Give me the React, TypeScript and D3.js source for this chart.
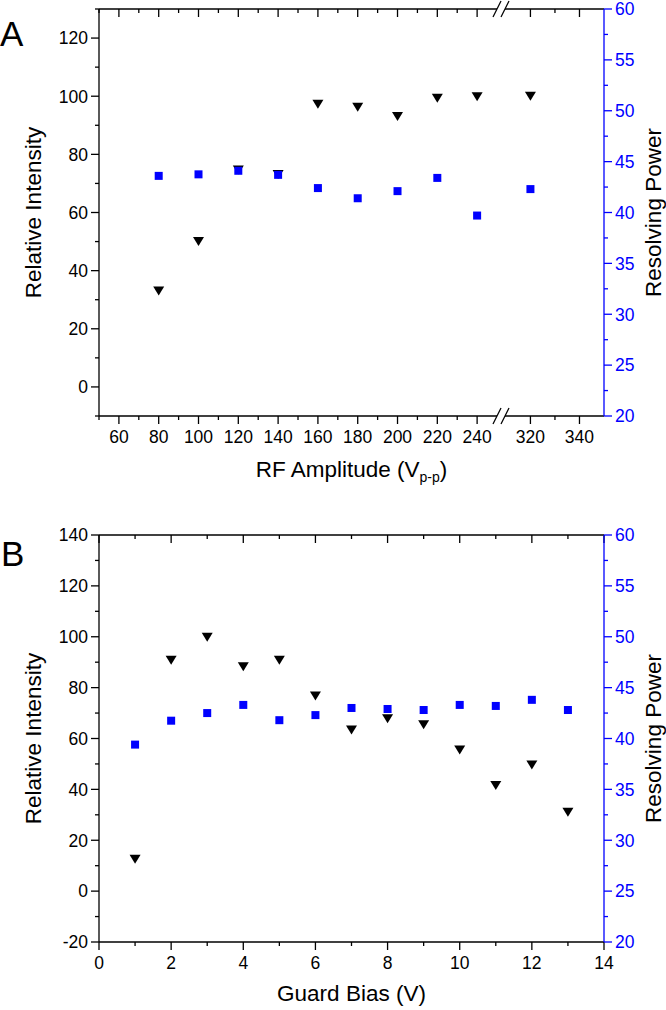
import React from 'react';
import * as d3 from 'd3';

// ---------- data ----------
const rfAmplitude = [80, 100, 120, 140, 160, 180, 200, 220, 240, 320];
const rfIntensity = [33, 50, 74.6, 73.1, 97.2, 96.2, 93, 99.3, 99.8, 100];
const rfResolving = [43.6, 43.75, 44.1, 43.7, 42.4, 41.4, 42.1, 43.4, 39.7, 42.3];

const guardBias = [1, 2, 3, 4, 5, 6, 7, 8, 9, 10, 11, 12, 13];
const gbIntensity = [12.5, 90.8, 99.8, 88.2, 90.8, 76.7, 63.3, 67.8, 65.4, 55.5, 41.5, 49.6, 31];
const gbResolving = [39.4, 41.75, 42.5, 43.3, 41.8, 42.3, 43.0, 42.9, 42.8, 43.3, 43.2, 43.8, 42.8];

// tick values
const rfMajorLeftSeg = [60, 80, 100, 120, 140, 160, 180, 200, 220, 240];
const rfMinorLeftSeg = [50, 70, 90, 110, 130, 150, 170, 190, 210, 230];
const rfMajorRightSeg = [320, 340];
const rfMinorRightSeg = [330];
const intensityTicksA = [0, 20, 40, 60, 80, 100, 120];
const intensityMinorA = [-10, 10, 30, 50, 70, 90, 110, 130];
const intensityTicksB = [-20, 0, 20, 40, 60, 80, 100, 120, 140];
const intensityMinorB = [-10, 10, 30, 50, 70, 90, 110, 130];
const rpTicks = [20, 25, 30, 35, 40, 45, 50, 55, 60];
const rpMinor = [22.5, 27.5, 32.5, 37.5, 42.5, 47.5, 52.5, 57.5];
const gbMajor = [0, 2, 4, 6, 8, 10, 12, 14];
const gbMinor = [1, 3, 5, 7, 9, 11, 13];

// ---------- layout ----------
const FONT = "'Liberation Sans', Arial, Helvetica, sans-serif";
const BLUE = '#0000ff';
const L = 99;
const R = 604;
const BREAK_X = 501;
const TOP_A = 9, BOT_A = 416;
const TOP_B = 535, BOT_B = 942;
const MAJ = 8, MIN = 4;
const TICK_FS = 17.5;
const TITLE_FS = 22.5;
const SW = 1.3;

const xLeftA = d3.scaleLinear().domain([50, 252]).range([L, BREAK_X]);
const xRightA = d3.scaleLinear().domain([308, 350]).range([BREAK_X, R]);
const xA = (v: number) => (v < 280 ? xLeftA(v) : xRightA(v));
const yIntA = d3.scaleLinear().domain([-10, 130]).range([BOT_A, TOP_A]);
const yRpA = d3.scaleLinear().domain([20, 60]).range([BOT_A, TOP_A]);

const xB = d3.scaleLinear().domain([0, 14]).range([L, R]);
const yIntB = d3.scaleLinear().domain([-20, 140]).range([BOT_B, TOP_B]);
const yRpB = d3.scaleLinear().domain([20, 60]).range([BOT_B, TOP_B]);

const triPath = 'M-5.5,-4.5L5.5,-4.5L0,4.5Z';

function LeftAxis({ y, major, minor, top, bottom }: any) {
  return (
    <g>
      <line x1={L} x2={L} y1={top} y2={bottom} stroke="#000" strokeWidth={SW} />
      {minor.map((v: number) => (
        <line key={'m' + v} x1={L - MIN} x2={L} y1={y(v)} y2={y(v)} stroke="#000" strokeWidth={SW} />
      ))}
      {major.map((v: number) => (
        <g key={'M' + v}>
          <line x1={L - MAJ} x2={L} y1={y(v)} y2={y(v)} stroke="#000" strokeWidth={SW} />
          <text x={L - 11} y={y(v)} dy="0.36em" textAnchor="end" fontSize={TICK_FS} fontFamily={FONT} fill="#000">
            {v}
          </text>
        </g>
      ))}
    </g>
  );
}

function RightAxis({ y, top, bottom }: any) {
  return (
    <g>
      <line x1={R} x2={R} y1={top} y2={bottom} stroke={BLUE} strokeWidth={SW} />
      {rpMinor.map((v) => (
        <line key={'m' + v} x1={R} x2={R + MIN} y1={y(v)} y2={y(v)} stroke={BLUE} strokeWidth={SW} />
      ))}
      {rpTicks.map((v) => (
        <g key={'M' + v}>
          <line x1={R} x2={R + MAJ} y1={y(v)} y2={y(v)} stroke={BLUE} strokeWidth={SW} />
          <text x={R + 11} y={y(v)} dy="0.36em" textAnchor="start" fontSize={TICK_FS} fontFamily={FONT} fill={BLUE}>
            {v}
          </text>
        </g>
      ))}
    </g>
  );
}

function HTicks({ x, major, minor, top, bottom, labels }: any) {
  return (
    <g>
      {minor.map((v: number) => (
        <g key={'m' + v}>
          <line x1={x(v)} x2={x(v)} y1={bottom} y2={bottom + MIN} stroke="#000" strokeWidth={SW} />
          <line x1={x(v)} x2={x(v)} y1={top} y2={top + MIN} stroke="#000" strokeWidth={SW} />
        </g>
      ))}
      {major.map((v: number) => (
        <g key={'M' + v}>
          <line x1={x(v)} x2={x(v)} y1={bottom} y2={bottom + MAJ} stroke="#000" strokeWidth={SW} />
          <line x1={x(v)} x2={x(v)} y1={top} y2={top + MAJ} stroke="#000" strokeWidth={SW} />
          {labels && (
            <text x={x(v)} y={bottom + 27} textAnchor="middle" fontSize={TICK_FS} fontFamily={FONT} fill="#000">
              {v}
            </text>
          )}
        </g>
      ))}
    </g>
  );
}

function BreakMark({ x, y }: any) {
  return (
    <g>
      <rect x={x - 4} y={y - 2} width={8} height={4} fill="#fff" />
      <line x1={x - 8} x2={x} y1={y + 8} y2={y - 8} stroke="#000" strokeWidth={SW} />
      <line x1={x} x2={x + 8} y1={y + 8} y2={y - 8} stroke="#000" strokeWidth={SW} />
    </g>
  );
}

function Markers({ xs, ints, res, x, yI, yR }: any) {
  return (
    <g>
      {xs.map((v: number, i: number) => (
        <path key={'t' + i} d={triPath} transform={`translate(${x(v)},${yI(ints[i])})`} fill="#000" />
      ))}
      {xs.map((v: number, i: number) => (
        <rect key={'s' + i} x={x(v) - 4} y={yR(res[i]) - 4} width={8} height={8} fill={BLUE} />
      ))}
    </g>
  );
}

function YTitles({ top, bottom }: any) {
  const cy = (top + bottom) / 2;
  return (
    <g fontFamily={FONT} fontSize={TITLE_FS}>
      <text transform={`translate(41,${cy}) rotate(-90)`} textAnchor="middle" fill="#000">
        Relative Intensity
      </text>
      <text transform={`translate(661,${cy}) rotate(-90)`} textAnchor="middle" fill="#000">
        Resolving Power
      </text>
    </g>
  );
}

export default function App() {
  return (
    <div style={{ position: 'absolute', left: 0, top: 0 }}>
      <svg width={666} height={1010} style={{ display: 'block', background: '#fff' }}>
        {/* ---------- Panel A ---------- */}
        <text x={0} y={46} fontSize={35} fontFamily={FONT} fill="#000">A</text>
        <Markers xs={rfAmplitude} ints={rfIntensity} res={rfResolving} x={xA} yI={yIntA} yR={yRpA} />
        <line x1={L} x2={R} y1={TOP_A} y2={TOP_A} stroke="#000" strokeWidth={SW} />
        <line x1={L} x2={R} y1={BOT_A} y2={BOT_A} stroke="#000" strokeWidth={SW} />
        <HTicks x={xLeftA} major={rfMajorLeftSeg} minor={rfMinorLeftSeg} top={TOP_A} bottom={BOT_A} labels />
        <HTicks x={xRightA} major={rfMajorRightSeg} minor={rfMinorRightSeg} top={TOP_A} bottom={BOT_A} labels />
        <BreakMark x={BREAK_X} y={TOP_A} />
        <BreakMark x={BREAK_X} y={BOT_A} />
        <LeftAxis y={yIntA} major={intensityTicksA} minor={intensityMinorA} top={TOP_A} bottom={BOT_A} />
        <RightAxis y={yRpA} top={TOP_A} bottom={BOT_A} />
        <text x={(L + R) / 2} y={477} textAnchor="middle" fontSize={TITLE_FS} fontFamily={FONT} fill="#000">
          RF Amplitude (V
          <tspan fontSize={14} dy={5}>p-p</tspan>
          <tspan dy={-5}>)</tspan>
        </text>
        <YTitles top={TOP_A} bottom={BOT_A} />

        {/* ---------- Panel B ---------- */}
        <text x={1} y={566} fontSize={35} fontFamily={FONT} fill="#000">B</text>
        <Markers xs={guardBias} ints={gbIntensity} res={gbResolving} x={xB} yI={yIntB} yR={yRpB} />
        <line x1={L} x2={R} y1={TOP_B} y2={TOP_B} stroke="#000" strokeWidth={SW} />
        <line x1={L} x2={R} y1={BOT_B} y2={BOT_B} stroke="#000" strokeWidth={SW} />
        <HTicks x={xB} major={gbMajor} minor={gbMinor} top={TOP_B} bottom={BOT_B} labels />
        <LeftAxis y={yIntB} major={intensityTicksB} minor={intensityMinorB} top={TOP_B} bottom={BOT_B} />
        <RightAxis y={yRpB} top={TOP_B} bottom={BOT_B} />
        <text x={(L + R) / 2} y={1001} textAnchor="middle" fontSize={TITLE_FS} fontFamily={FONT} fill="#000">
          Guard Bias (V)
        </text>
        <YTitles top={TOP_B} bottom={BOT_B} />
      </svg>
    </div>
  );
}
